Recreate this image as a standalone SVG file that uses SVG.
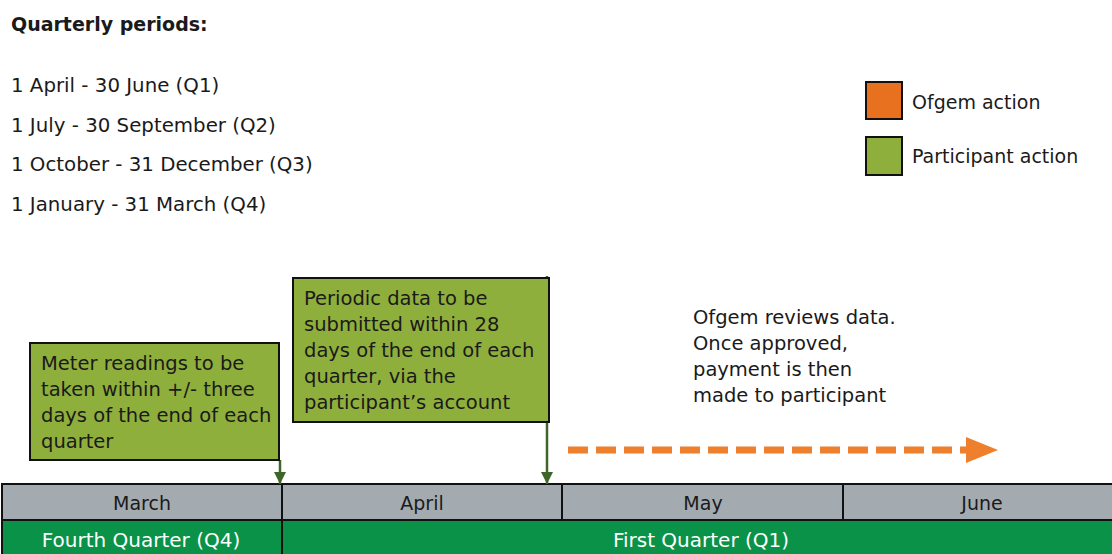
<svg xmlns="http://www.w3.org/2000/svg" width="1112" height="554" viewBox="0 0 1112 554">
<style>
text{font-family:"DejaVu Sans",Verdana,sans-serif;font-size:19.5px;fill:#1a1a1a}
.b{font-weight:bold;font-size:19px}
.l{font-size:19.8px}
.lg{font-size:19px}
.w{fill:#ffffff;font-size:20px}
.m{text-anchor:middle}
.mo{font-size:19px}
.box{fill:#8faf3c;stroke:#111;stroke-width:2}
.conn{stroke:#3f6629;stroke-width:2.5;fill:none}
.cell{fill:#a3abb0;stroke:#111;stroke-width:2}
.q{fill:#0a9248;stroke:#111;stroke-width:2}
</style>
<defs>
<marker id="ah" viewBox="0 0 10 10" refX="10" refY="5" markerWidth="5" markerHeight="5" orient="auto" markerUnits="strokeWidth"><path d="M0,0L10,5L0,10z" fill="#3f6629"/></marker>
</defs>
<rect width="1112" height="554" fill="#fff"/>
<g id="title">
<text class="b" x="11" y="31">Quarterly periods:</text>
<text class="l" x="11" y="92">1 April - 30 June (Q1)</text>
<text class="l" x="11" y="132">1 July - 30 September (Q2)</text>
<text class="l" x="11" y="171">1 October - 31 December (Q3)</text>
<text class="l" x="11" y="211">1 January - 31 March (Q4)</text>
</g>
<g id="legend">
<rect x="866" y="82" width="36" height="37" fill="#e8711f" stroke="#111" stroke-width="2"/>
<text class="lg" x="912" y="109">Ofgem action</text>
<rect x="866" y="137" width="36" height="38" fill="#8faf3c" stroke="#111" stroke-width="2"/>
<text class="lg" x="912" y="163">Participant action</text>
</g>
<g id="timeline">
<rect class="cell" x="2" y="484" width="280" height="36"/>
<rect class="cell" x="282" y="484" width="280" height="36"/>
<rect class="cell" x="562" y="484" width="281" height="36"/>
<rect class="cell" x="843" y="484" width="270" height="36"/>
<text class="m mo" x="142" y="510">March</text>
<text class="m mo" x="422" y="510">April</text>
<text class="m mo" x="703" y="510">May</text>
<text class="m mo" x="982" y="510">June</text>
<rect class="q" x="2" y="520" width="280" height="36"/>
<rect class="q" x="282" y="520" width="831" height="36"/>
<text class="m w" x="141" y="547">Fourth Quarter (Q4)</text>
<text class="m w" x="701" y="547">First Quarter (Q1)</text>
</g>
<g id="connectors">
<line class="conn" x1="280" y1="460" x2="280" y2="484" marker-end="url(#ah)"/>
<line class="conn" x1="547" y1="276" x2="547" y2="484" marker-end="url(#ah)"/>
<line x1="568" y1="450" x2="968" y2="450" stroke="#ee7f2d" stroke-width="7" stroke-dasharray="20 8"/>
<path d="M966,437L998,450L966,463z" fill="#ee7f2d"/>
</g>
<g id="meter">
<rect class="box" x="30" y="343" width="249" height="117"/>
<text x="41" y="370">Meter readings to be</text>
<text x="41" y="396">taken within +/- three</text>
<text x="41" y="422">days of the end of each</text>
<text x="41" y="448">quarter</text>
</g>
<g id="periodic">
<rect class="box" x="293" y="278" width="256" height="144"/>
<text x="304" y="305">Periodic data to be</text>
<text x="304" y="331">submitted within 28</text>
<text x="304" y="357">days of the end of each</text>
<text x="304" y="383">quarter, via the</text>
<text x="304" y="409">participant’s account</text>
</g>
<g id="ofgem">
<text x="693" y="324">Ofgem reviews data.</text>
<text x="693" y="350">Once approved,</text>
<text x="693" y="376">payment is then</text>
<text x="693" y="402">made to participant</text>
</g>
</svg>
